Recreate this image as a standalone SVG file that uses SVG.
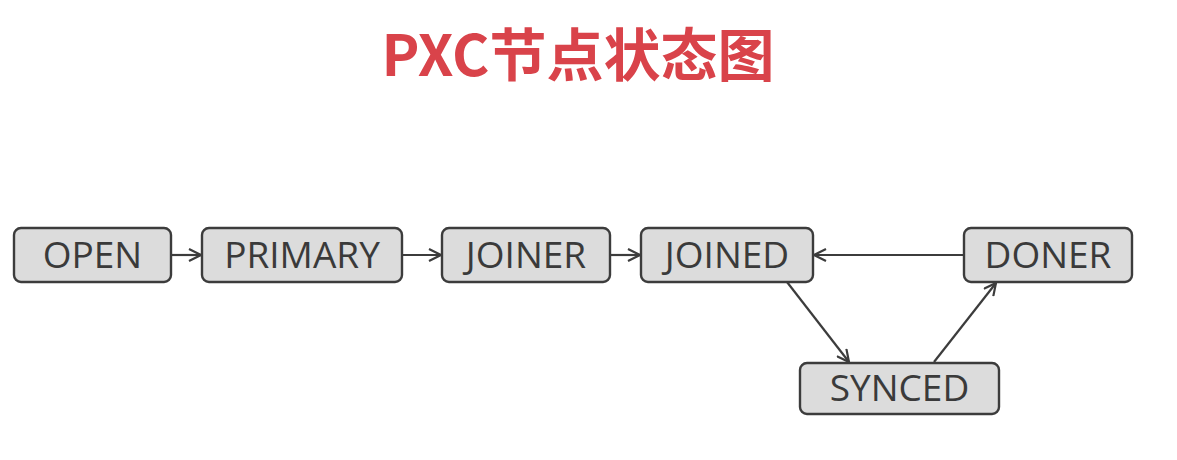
<svg xmlns="http://www.w3.org/2000/svg" width="1177" height="460" viewBox="0 0 1177 460">
<defs>
<style>
.box{fill:#dcdcdc;stroke:#3c3c3c;stroke-width:2.4}
.lbl{font-family:"Open Sans","Liberation Sans",sans-serif;font-size:37px;fill:#3a3a3a;text-anchor:middle}
.edge{stroke:#3c3c3c;stroke-width:2.2;fill:none;marker-end:url(#arr)}
.title{font-family:"Noto Sans CJK SC","Noto Sans",sans-serif;font-weight:bold;font-size:57px;fill:#d9434a;text-anchor:middle}
</style>
<marker id="arr" viewBox="0 0 14 14" refX="13" refY="7" markerWidth="14" markerHeight="14" markerUnits="userSpaceOnUse" orient="auto">
<path d="M1,1 L13,7 L1,13" fill="none" stroke="#3c3c3c" stroke-width="2.2"/>
</marker>
</defs>
<rect width="1177" height="460" fill="#ffffff"/>
<text class="title" x="578" y="76">PXC节点状态图</text>
<g id="connectors">
<line class="edge" x1="171" y1="255" x2="201" y2="255"/>
<line class="edge" x1="402" y1="255" x2="441" y2="255"/>
<line class="edge" x1="610" y1="255" x2="640" y2="255"/>
<line class="edge" x1="964" y1="255" x2="814" y2="255"/>
<line class="edge" x1="787" y1="282" x2="849" y2="362"/>
<line class="edge" x1="934" y1="362" x2="996" y2="283"/>
</g>
<g id="open"><rect class="box" x="14" y="228" width="157" height="54" rx="7"/><text class="lbl" x="92.5" y="268">OPEN</text></g>
<g id="primary"><rect class="box" x="202" y="228" width="200" height="54" rx="7"/><text class="lbl" x="302" y="268">PRIMARY</text></g>
<g id="joiner"><rect class="box" x="442" y="228" width="168" height="54" rx="7"/><text class="lbl" x="526" y="268">JOINER</text></g>
<g id="joined"><rect class="box" x="641" y="228" width="172" height="54" rx="7"/><text class="lbl" x="727" y="268">JOINED</text></g>
<g id="doner"><rect class="box" x="964" y="228" width="168" height="54" rx="7"/><text class="lbl" x="1048" y="268">DONER</text></g>
<g id="synced"><rect class="box" x="800" y="363" width="199" height="51" rx="7"/><text class="lbl" x="899.5" y="401">SYNCED</text></g>
</svg>
